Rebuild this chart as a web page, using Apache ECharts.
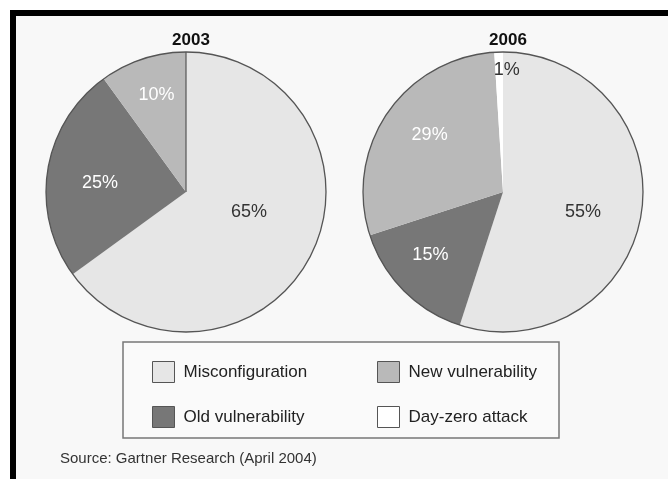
<!DOCTYPE html>
<html>
<head>
<meta charset="utf-8">
<script src="https://cdn.jsdelivr.net/npm/echarts@6/dist/echarts.min.js"></script>
<style>
html, body { margin: 0; padding: 0; background: #fff; }
#chart { width: 668px; height: 479px; }
</style>
</head>
<body>
<div id="chart"></div>
<script>
// data
var years = ['2003', '2006'];
var names2003 = ['Misconfiguration', 'Old vulnerability', 'New vulnerability'];
var values2003 = [65, 25, 10];
var names2006 = ['Misconfiguration', 'Old vulnerability', 'New vulnerability', 'Day-zero attack'];
var values2006 = [55, 15, 29, 1];
var legendLeft = ['Misconfiguration', 'Old vulnerability'];
var legendRight = ['New vulnerability', 'Day-zero attack'];

var colors = {
    'Misconfiguration': '#e6e6e6',
    'Old vulnerability': '#777777',
    'New vulnerability': '#b9b9b9',
    'Day-zero attack': '#ffffff'
};
var labelColors = {
    'Misconfiguration': '#333',
    'Old vulnerability': '#fff',
    'New vulnerability': '#fff',
    'Day-zero attack': '#333'
};

// label nudges (dx, dy) per slice
var nudge = [
    [[-2, -13], [-14, 2], [-7, -28]],
    [[8, 9], [-21, 11], [-13, -16], [6, -49]]
];

var R = 140;
var centers = [[186, 192], [503, 192]];
var font = 'Liberation Sans, Arial, sans-serif';

function buildData(names, values) {
    var out = [];
    for (var i = 0; i < names.length; i++) {
        out.push({
            name: names[i],
            value: values[i],
            itemStyle: { color: colors[names[i]] },
            label: { color: labelColors[names[i]] }
        });
    }
    return out;
}

function pieSeries(idx, names, values) {
    return {
        type: 'pie',
        name: years[idx],
        center: centers[idx],
        radius: [0, R],
        startAngle: 90,
        clockwise: true,
        avoidLabelOverlap: false,
        silent: true,
        itemStyle: { borderWidth: 0 },
        label: {
            show: true,
            position: 'inside',
            formatter: '{c}%',
            fontFamily: font,
            fontSize: 18
        },
        labelLine: { show: false },
        emphasis: { disabled: true },
        labelLayout: function (p) {
            var d = nudge[idx][p.dataIndex];
            return { dx: d[0], dy: d[1] };
        },
        data: buildData(names, values)
    };
}

// thin dark rim round each pie
function outlineSeries(idx) {
    return {
        type: 'pie',
        name: 'outline' + idx,
        center: centers[idx],
        radius: [0, R],
        silent: true,
        label: { show: false },
        labelLine: { show: false },
        emphasis: { disabled: true },
        itemStyle: { color: 'rgba(0,0,0,0)', borderColor: '#555', borderWidth: 1.3 },
        data: [{ name: 'outline', value: 1 }]
    };
}

function legendBlock(list, left) {
    return {
        data: list,
        orient: 'vertical',
        left: left,
        top: 361,
        padding: 0,
        itemWidth: 22,
        itemHeight: 21,
        itemGap: 23,
        selectedMode: false,
        icon: 'rect',
        itemStyle: { borderColor: '#555', borderWidth: 1 },
        textStyle: {
            fontFamily: font,
            fontSize: 17,
            color: '#222',
            padding: [0, 0, 0, 4]
        }
    };
}

var myChart = echarts.init(document.getElementById('chart'));
var option = {
    animation: false,
    backgroundColor: '#ffffff',
    title: [
        { text: years[0], left: centers[0][0], top: 27, textAlign: 'center',
          textStyle: { fontFamily: font, fontSize: 17, fontWeight: 'bold', color: '#111' } },
        { text: years[1], left: centers[1][0], top: 27, textAlign: 'center',
          textStyle: { fontFamily: font, fontSize: 17, fontWeight: 'bold', color: '#111' } }
    ],
    legend: [legendBlock(legendLeft, 152), legendBlock(legendRight, 377)],
    graphic: [
        { type: 'rect', z: -10, shape: { x: 16, y: 16, width: 652, height: 463 }, style: { fill: '#f8f8f8' } },
        { type: 'rect', z: 10, shape: { x: 10, y: 10, width: 658, height: 6 }, style: { fill: '#000' } },
        { type: 'rect', z: 10, shape: { x: 10, y: 10, width: 6, height: 469 }, style: { fill: '#000' } },
        { type: 'rect', z: -5, shape: { x: 123, y: 342, width: 436, height: 96 },
          style: { fill: '#fafafa', stroke: '#777', lineWidth: 1.5 } },
        { type: 'line', z: 5, shape: { x1: centers[0][0], y1: centers[0][1] - R, x2: centers[0][0], y2: centers[0][1] },
          style: { stroke: '#555', lineWidth: 1.2 } },
        { type: 'text', left: 60, top: 451,
          style: { text: 'Source: Gartner Research (April 2004)', fill: '#333',
                   font: '15px "Liberation Sans", Arial, sans-serif' } }
    ],
    series: [
        pieSeries(0, names2003, values2003),
        pieSeries(1, names2006, values2006),
        outlineSeries(0),
        outlineSeries(1)
    ]
};
myChart.setOption(option);
</script>
</body>
</html>
